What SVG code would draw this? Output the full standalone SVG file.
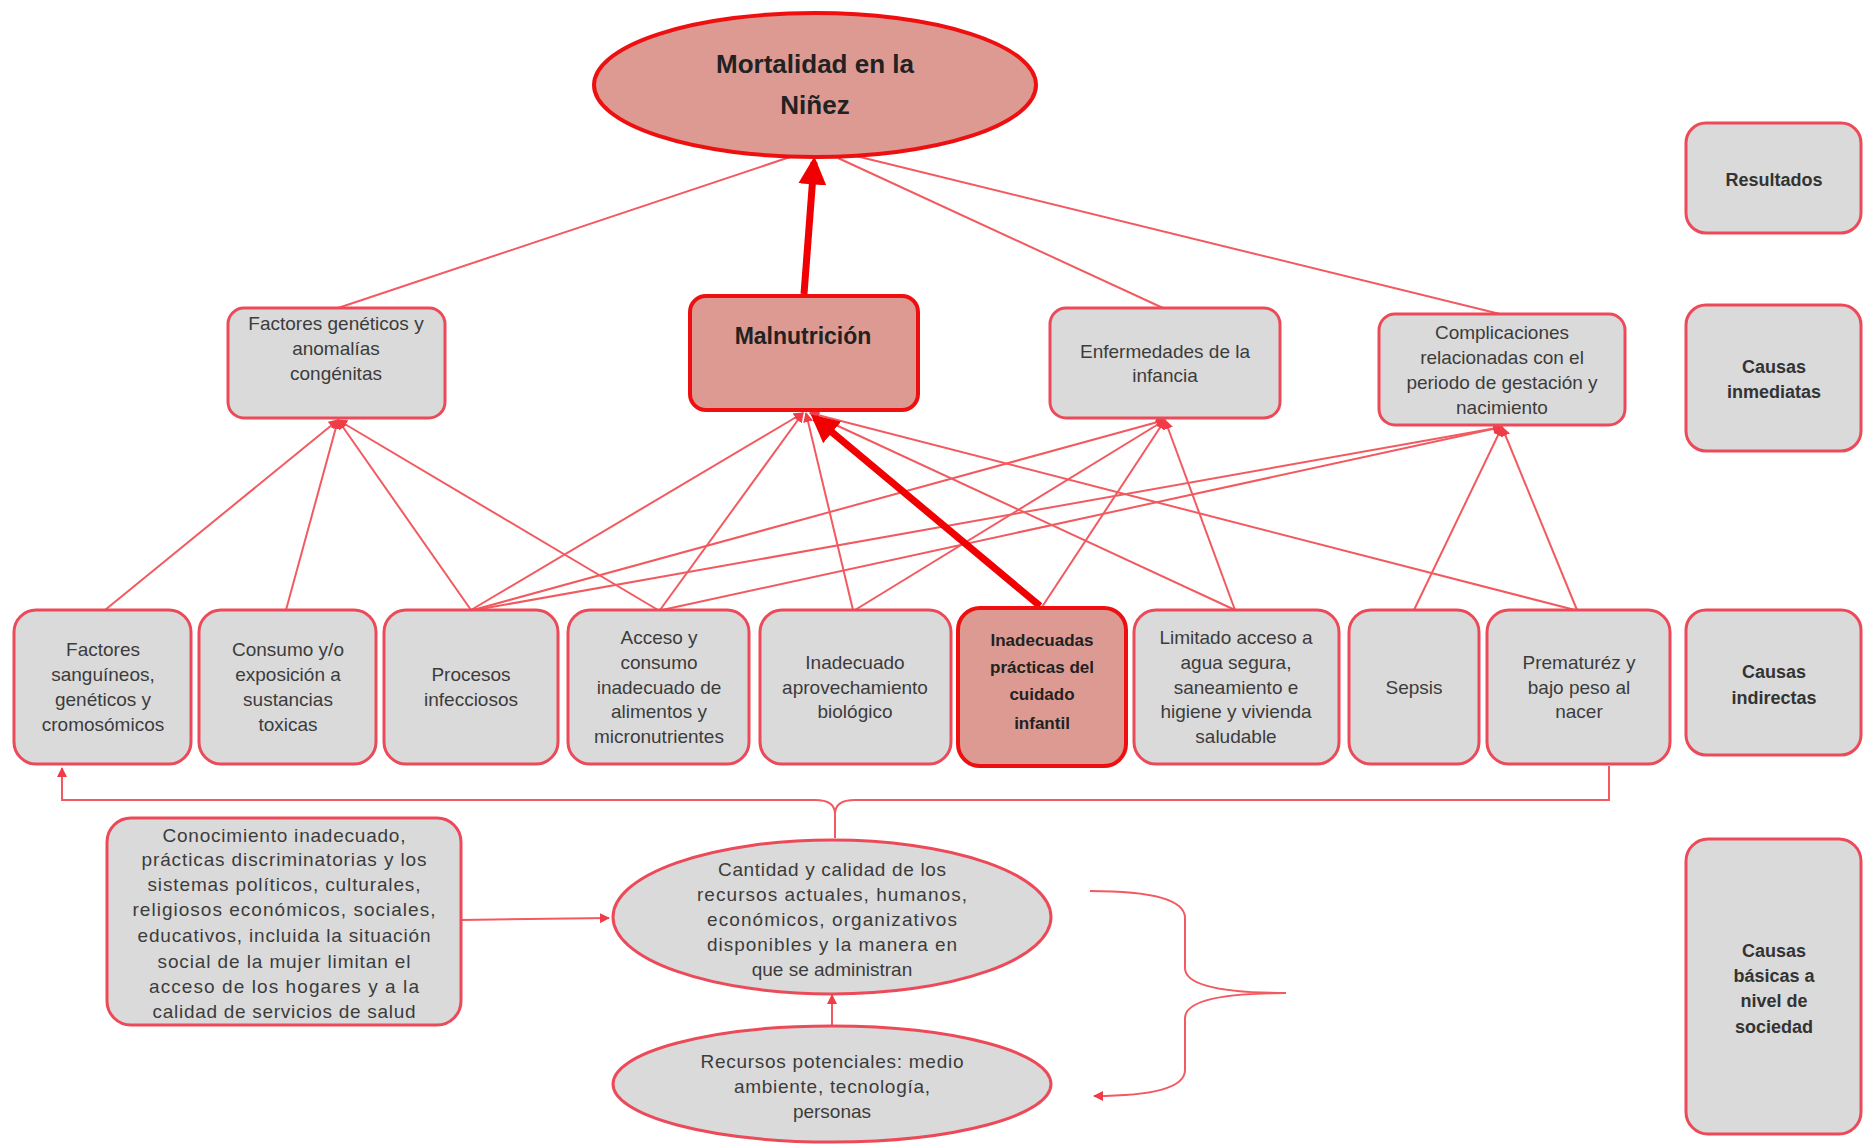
<svg xmlns="http://www.w3.org/2000/svg" width="1871" height="1148" viewBox="0 0 1871 1148">
<defs>
<marker id="ah" viewBox="0 0 10 10" refX="9" refY="5" markerWidth="5" markerHeight="5" orient="auto" markerUnits="strokeWidth"><path d="M0,0 L10,5 L0,10 z" fill="#f03c46"/></marker>
<marker id="ahb" viewBox="0 0 10 10" refX="8" refY="5" markerWidth="4" markerHeight="4" orient="auto" markerUnits="strokeWidth"><path d="M0,0 L10,5 L0,10 z" fill="#f00000"/></marker>
<style>
.g{fill:#dadada;stroke:#ec4a58;stroke-width:3}
.p{fill:#dc9a93;stroke:#ee1010;stroke-width:4}
.t{font-family:"Liberation Sans",Arial,sans-serif;font-size:19px;fill:#3c3c3c;text-anchor:middle}
.b{font-family:"Liberation Sans",Arial,sans-serif;font-weight:bold;fill:#222;text-anchor:middle}
.lb{font-family:"Liberation Sans",Arial,sans-serif;font-weight:bold;font-size:18px;fill:#333;text-anchor:middle}
.c{fill:none;stroke:#f25a60;stroke-width:2}
.ca{fill:none;stroke:#f25a60;stroke-width:2;marker-end:url(#ah)}
.k{fill:none;stroke:#f00000;stroke-width:7;marker-end:url(#ahb)}
</style>
</defs>
<rect width="1871" height="1148" fill="#ffffff"/>

<g id="connectors">
<!-- ellipse to immediate causes -->
<line class="c" x1="790" y1="157" x2="338" y2="308"/>
<line class="c" x1="838" y1="158" x2="1163" y2="308"/>
<line class="c" x1="856" y1="156" x2="1500" y2="314"/>
<!-- to Factores geneticos -->
<line class="ca" x1="105" y1="610" x2="338" y2="420"/>
<line class="ca" x1="286" y1="610" x2="338" y2="420"/>
<line class="ca" x1="471" y1="610" x2="338" y2="420"/>
<line class="ca" x1="658" y1="610" x2="338" y2="420"/>
<!-- to Malnutricion -->
<line class="ca" x1="471" y1="610" x2="803" y2="413"/>
<line class="ca" x1="660" y1="610" x2="803" y2="413"/>
<line class="ca" x1="853" y1="610" x2="806" y2="413"/>
<line class="ca" x1="1235" y1="610" x2="810" y2="413"/>
<line class="ca" x1="1575" y1="610" x2="810" y2="413"/>
<!-- to Enfermedades -->
<line class="ca" x1="473" y1="610" x2="1165" y2="420"/>
<line class="ca" x1="855" y1="610" x2="1165" y2="420"/>
<line class="ca" x1="1040" y1="610" x2="1165" y2="420"/>
<line class="ca" x1="1235" y1="610" x2="1165" y2="420"/>
<!-- to Complicaciones -->
<line class="ca" x1="475" y1="610" x2="1502" y2="427"/>
<line class="ca" x1="662" y1="610" x2="1502" y2="427"/>
<line class="ca" x1="1414" y1="610" x2="1502" y2="427"/>
<line class="ca" x1="1577" y1="610" x2="1502" y2="427"/>
<!-- thick arrows -->
<line class="k" x1="1040" y1="606" x2="815" y2="418"/>
<line class="k" x1="804" y1="294" x2="814" y2="162"/>
<!-- basic causes bracket -->
<path class="ca" d="M835,838 V814 Q835,800 815,800 H62 V768"/>
<path class="c" d="M835,814 Q835,800 855,800 H1609 V766"/>
<line class="ca" x1="461" y1="920" x2="609" y2="918"/>
<line class="ca" x1="832" y1="1025" x2="832" y2="995"/>
<path class="ca" d="M1090,891 Q1185,891 1185,918 V968 Q1185,993 1286,993 Q1185,993 1185,1018 V1070 Q1185,1096 1094,1096"/>
</g>

<g id="n-mortalidad">
<ellipse class="p" cx="815" cy="85" rx="221" ry="72"/>
<text class="b" font-size="26" x="815" y="73">Mortalidad en la</text>
<text class="b" font-size="26" x="815" y="114">Niñez</text>
</g>

<g id="n-fgen">
<rect class="g" x="228" y="308" width="217" height="110" rx="16"/>
<text class="t" x="336" y="330">Factores genéticos y</text>
<text class="t" x="336" y="355">anomalías</text>
<text class="t" x="336" y="380">congénitas</text>
</g>
<g id="n-malnutricion">
<rect class="p" x="690" y="296" width="228" height="114" rx="16"/>
<text class="b" font-size="23" x="803" y="344">Malnutrición</text>
</g>
<g id="n-enfermedades">
<rect class="g" x="1050" y="308" width="230" height="110" rx="16"/>
<text class="t" x="1165" y="358">Enfermedades de la</text>
<text class="t" x="1165" y="382">infancia</text>
</g>
<g id="n-complicaciones">
<rect class="g" x="1379" y="314" width="246" height="111" rx="16"/>
<text class="t" x="1502" y="339">Complicaciones</text>
<text class="t" x="1502" y="364">relacionadas  con el</text>
<text class="t" x="1502" y="389">periodo de gestación  y</text>
<text class="t" x="1502" y="414">nacimiento</text>
</g>

<g id="n-sanguineos">
<rect class="g" x="14" y="610" width="177" height="154" rx="22"/>
<text class="t" x="103" y="656">Factores</text>
<text class="t" x="103" y="681">sanguíneos,</text>
<text class="t" x="103" y="706">genéticos y</text>
<text class="t" x="103" y="731">cromosómicos</text>
</g>
<g id="n-consumo">
<rect class="g" x="199" y="610" width="177" height="154" rx="22"/>
<text class="t" x="288" y="656">Consumo  y/o</text>
<text class="t" x="288" y="681">exposición a</text>
<text class="t" x="288" y="706">sustancias</text>
<text class="t" x="288" y="731">toxicas</text>
</g>
<g id="n-procesos">
<rect class="g" x="384" y="610" width="174" height="154" rx="22"/>
<text class="t" x="471" y="681">Procesos</text>
<text class="t" x="471" y="706">infecciosos</text>
</g>
<g id="n-acceso">
<rect class="g" x="568" y="610" width="181" height="154" rx="22"/>
<text class="t" x="659" y="644">Acceso y</text>
<text class="t" x="659" y="669">consumo</text>
<text class="t" x="659" y="694">inadecuado  de</text>
<text class="t" x="659" y="718">alimentos y</text>
<text class="t" x="659" y="743">micronutrientes</text>
</g>
<g id="n-aprovechamiento">
<rect class="g" x="760" y="610" width="191" height="154" rx="22"/>
<text class="t" x="855" y="669">Inadecuado</text>
<text class="t" x="855" y="694">aprovechamiento</text>
<text class="t" x="855" y="718">biológico</text>
</g>
<g id="n-practicas">
<rect class="p" x="958" y="608" width="168" height="158" rx="22"/>
<text class="b" font-size="17" x="1042" y="646">Inadecuadas</text>
<text class="b" font-size="17" x="1042" y="673">prácticas del</text>
<text class="b" font-size="17" x="1042" y="700">cuidado</text>
<text class="b" font-size="17" x="1042" y="729">infantil</text>
</g>
<g id="n-agua">
<rect class="g" x="1134" y="610" width="205" height="154" rx="22"/>
<text class="t" x="1236" y="644">Limitado acceso a</text>
<text class="t" x="1236" y="669">agua segura,</text>
<text class="t" x="1236" y="694">saneamiento e</text>
<text class="t" x="1236" y="718">higiene y vivienda</text>
<text class="t" x="1236" y="743">saludable</text>
</g>
<g id="n-sepsis">
<rect class="g" x="1349" y="610" width="130" height="154" rx="22"/>
<text class="t" x="1414" y="694">Sepsis</text>
</g>
<g id="n-prematurez">
<rect class="g" x="1487" y="610" width="183" height="154" rx="22"/>
<text class="t" x="1579" y="669">Prematuréz y</text>
<text class="t" x="1579" y="694">bajo peso al</text>
<text class="t" x="1579" y="718">nacer</text>
</g>

<g id="n-conocimiento">
<rect class="g" x="107" y="818" width="354" height="207" rx="24"/>
<text class="t" x="284" y="842" textLength="243" lengthAdjust="spacing">Conocimiento  inadecuado,</text>
<text class="t" x="284" y="866" textLength="285" lengthAdjust="spacing">prácticas discriminatorias y los</text>
<text class="t" x="284" y="891" textLength="273" lengthAdjust="spacing">sistemas políticos,  culturales,</text>
<text class="t" x="284" y="916" textLength="303" lengthAdjust="spacing">religiosos  económicos, sociales,</text>
<text class="t" x="284" y="942" textLength="293" lengthAdjust="spacing">educativos, incluida la situación</text>
<text class="t" x="284" y="968" textLength="253" lengthAdjust="spacing">social de la mujer limitan el</text>
<text class="t" x="284" y="993" textLength="270" lengthAdjust="spacing">acceso de los  hogares y a la</text>
<text class="t" x="284" y="1018" textLength="263" lengthAdjust="spacing">calidad de servicios de salud</text>
</g>
<g id="n-cantidad">
<ellipse class="g" cx="832" cy="917" rx="219" ry="77"/>
<text class="t" x="832" y="876" textLength="228" lengthAdjust="spacing">Cantidad y calidad de los</text>
<text class="t" x="832" y="901" textLength="270" lengthAdjust="spacing">recursos actuales,  humanos,</text>
<text class="t" x="832" y="926" textLength="250" lengthAdjust="spacing">económicos,  organizativos</text>
<text class="t" x="832" y="951" textLength="250" lengthAdjust="spacing">disponibles y la manera en</text>
<text class="t" x="832" y="976">que se administran</text>
</g>
<g id="n-recursos">
<ellipse class="g" cx="832" cy="1084" rx="219" ry="58"/>
<text class="t" x="832" y="1068" textLength="263" lengthAdjust="spacing">Recursos potenciales: medio</text>
<text class="t" x="832" y="1093" textLength="196" lengthAdjust="spacing">ambiente,  tecnología,</text>
<text class="t" x="832" y="1118">personas</text>
</g>

<g id="n-resultados">
<rect class="g" x="1686" y="123" width="175" height="110" rx="20"/>
<text class="lb" x="1774" y="186">Resultados</text>
</g>
<g id="n-inmediatas">
<rect class="g" x="1686" y="305" width="175" height="146" rx="20"/>
<text class="lb" x="1774" y="373">Causas</text>
<text class="lb" x="1774" y="398">inmediatas</text>
</g>
<g id="n-indirectas">
<rect class="g" x="1686" y="610" width="175" height="145" rx="20"/>
<text class="lb" x="1774" y="678">Causas</text>
<text class="lb" x="1774" y="704">indirectas</text>
</g>
<g id="n-basicas">
<rect class="g" x="1686" y="839" width="175" height="295" rx="22"/>
<text class="lb" x="1774" y="957">Causas</text>
<text class="lb" x="1774" y="982">básicas  a</text>
<text class="lb" x="1774" y="1007">nivel de</text>
<text class="lb" x="1774" y="1033">sociedad</text>
</g>
</svg>
